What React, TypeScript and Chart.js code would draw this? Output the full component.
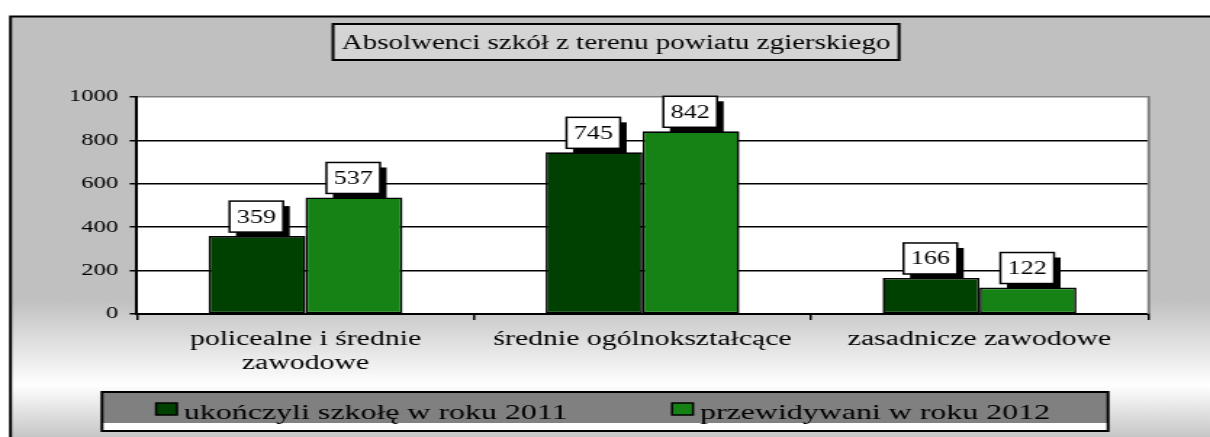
import React, { useEffect, useRef } from "react";
import { Chart, registerables } from "chart.js";

Chart.register(...registerables);

const TITLE = "Absolwenci szkół z terenu powiatu zgierskiego";
const CATEGORIES: (string | string[])[] = [
  ["policealne i średnie", "zawodowe"],
  "średnie ogólnokształcące",
  "zasadnicze zawodowe",
];
const SERIES_NAMES = ["ukończyli szkołę w roku 2011", "przewidywani w roku 2012"];
const VALUES_2011 = [359, 745, 166];
const VALUES_2012 = [537, 842, 122];
const Y_TICKS = [0, 200, 400, 600, 800, 1000];

const COLORS = ["#004000", "#168216"];
const FONT = "'Liberation Serif', 'Times New Roman', serif";

const W = 834;
const H = 437;
const K = 1210 / W;
const rx = (v: number) => v / K;

const decorPlugin = {
  id: "decor",
  beforeDraw(chart: any) {
    const { ctx, chartArea } = chart;
    ctx.save();
    ctx.fillStyle = "#ffffff";
    ctx.fillRect(0, 0, W, H);
    const g = ctx.createLinearGradient(0, 0, 0, H);
    g.addColorStop(0, "#c0c0c0");
    g.addColorStop(300 / H, "#c0c0c0");
    g.addColorStop(385 / H, "#ffffff");
    g.addColorStop(1, "#c6c6c6");
    ctx.fillStyle = g;
    ctx.fillRect(rx(10), 16, W, H);
    ctx.strokeStyle = "#000";
    ctx.lineWidth = 2;
    ctx.beginPath();
    ctx.moveTo(rx(10.5), H + 5);
    ctx.lineTo(rx(10.5), 16.5);
    ctx.lineTo(W + 5, 16.5);
    ctx.stroke();
    // plot area
    ctx.fillStyle = "#ffffff";
    ctx.fillRect(chartArea.left, chartArea.top, chartArea.right - chartArea.left, chartArea.bottom - chartArea.top);

    // title box
    const tl = rx(333), tr = rx(899);
    ctx.fillStyle = "#d4d4d4";
    ctx.fillRect(tl, 24, tr - tl, 36);
    ctx.lineWidth = 2;
    ctx.strokeStyle = "#000";
    ctx.strokeRect(tl, 24, tr - tl, 36);
    ctx.fillStyle = "#000";
    ctx.font = `20px ${FONT}`;
    ctx.textAlign = "center";
    ctx.textBaseline = "alphabetic";
    ctx.fillText(TITLE, (tl + tr) / 2, 48.5);

    // legend box
    const ll = rx(102), lr = rx(1108);
    ctx.fillStyle = "#ffffff";
    ctx.fillRect(ll, 392, lr - ll, 39);
    ctx.fillStyle = "#808080";
    ctx.fillRect(ll, 392, lr - ll, 31);
    ctx.lineWidth = 2;
    ctx.strokeStyle = "#000";
    ctx.strokeRect(ll, 392, lr - ll, 39);
    const items = [
      { mx: rx(156), tx: rx(184) },
      { mx: rx(672), tx: rx(700) },
    ];
    ctx.font = `22px ${FONT}`;
    ctx.textAlign = "left";
    items.forEach((it, i) => {
      ctx.fillStyle = COLORS[i];
      ctx.fillRect(it.mx, 403, rx(21), 12);
      ctx.lineWidth = 1.5;
      ctx.strokeStyle = "#000";
      ctx.strokeRect(it.mx, 403, rx(21), 12);
      ctx.fillStyle = "#000";
      ctx.fillText(SERIES_NAMES[i], it.tx, 419);
    });
    ctx.restore();
  },
  afterDatasetsDraw(chart: any) {
    const { ctx, chartArea } = chart;
    ctx.save();
    // right gray border of plot area
    ctx.strokeStyle = "#808080";
    ctx.lineWidth = 2;
    ctx.beginPath();
    ctx.moveTo(chartArea.right + 0.5, chartArea.top - 1);
    ctx.lineTo(chartArea.right + 0.5, chartArea.bottom);
    ctx.stroke();

    ctx.font = `18px ${FONT}`;
    chart.data.datasets.forEach((ds: any, di: number) => {
      const meta = chart.getDatasetMeta(di);
      meta.data.forEach((bar: any, i: number) => {
        const text = String(ds.data[i]);
        const w = ctx.measureText(text).width + 10;
        const h = 31;
        const cx = bar.x - 0.5;
        const bottom = bar.y - 4;
        const top = bottom - h;
        const left = cx - w / 2;
        ctx.fillStyle = "#000";
        ctx.fillRect(left + 4.5, top + 5, w, h);
        ctx.fillStyle = "#fff";
        ctx.fillRect(left, top, w, h);
        ctx.lineWidth = 1.5;
        ctx.strokeStyle = "#000";
        ctx.strokeRect(left, top, w, h);
        ctx.fillStyle = "#000";
        ctx.textAlign = "center";
        ctx.textBaseline = "alphabetic";
        ctx.fillText(text, cx, top + h / 2 + 6);
      });
    });
    ctx.restore();
  },
};

export default function App() {
  const ref = useRef<HTMLCanvasElement | null>(null);
  useEffect(() => {
    if (!ref.current) return;
    const chart = new Chart(ref.current, {
      type: "bar",
      data: {
        labels: CATEGORIES,
        datasets: [
          {
            label: SERIES_NAMES[0],
            data: VALUES_2011,
            backgroundColor: COLORS[0],
            borderColor: "#000",
            borderWidth: 1.6,
            borderSkipped: false,
            barPercentage: 1,
            categoryPercentage: 0.575,
          },
          {
            label: SERIES_NAMES[1],
            data: VALUES_2012,
            backgroundColor: COLORS[1],
            borderColor: "#000",
            borderWidth: 1.6,
            borderSkipped: false,
            barPercentage: 1,
            categoryPercentage: 0.575,
          },
        ],
      },
      options: {
        responsive: true,
        maintainAspectRatio: false,
        animation: false,
        layout: { padding: { left: 10, right: W - rx(1148), top: 97, bottom: 63 } },
        plugins: {
          legend: { display: false },
          title: { display: false },
          tooltip: { enabled: false },
        },
        scales: {
          x: {
            afterFit: (s: any) => {
              s.height = 60;
            },
            grid: {
              display: true,
              drawOnChartArea: false,
              drawTicks: true,
              tickLength: 6,
              color: "#000",
              lineWidth: 1.5,
              offset: true,
            },
            border: { display: true, color: "#000", width: 2 },
            ticks: {
              autoSkip: false,
              maxRotation: 0,
              minRotation: 0,
              color: "#000",
              padding: 8,
              font: { family: FONT, size: 20.5, lineHeight: 1.15 },
            },
          },
          y: {
            min: Y_TICKS[0],
            max: Y_TICKS[Y_TICKS.length - 1],
            afterFit: (s: any) => {
              s.width = rx(137) - 10;
            },
            afterBuildTicks: (s: any) => {
              s.ticks = Y_TICKS.map((v) => ({ value: v }));
            },
            grid: {
              color: (c: any) => (c.tick && c.tick.value === 1000 ? "#808080" : "#000"),
              tickColor: "#000",
              lineWidth: 1.5,
              tickLength: 5,
            },
            border: { display: true, color: "#000", width: 2 },
            ticks: {
              color: "#000",
              padding: 8,
              font: { family: FONT, size: 17 },
              callback: (v: any) => String(v),
            },
          },
        },
      },
      plugins: [decorPlugin],
    });
    return () => chart.destroy();
  }, []);

  return (
    <div style={{ position: "fixed", left: 0, top: 0, width: 1210, height: 437, overflow: "hidden", background: "#fff" }}>
      <div style={{ width: W, height: H, transform: `scaleX(${K})`, transformOrigin: "0 0" }}>
        <canvas ref={ref} />
      </div>
    </div>
  );
}
